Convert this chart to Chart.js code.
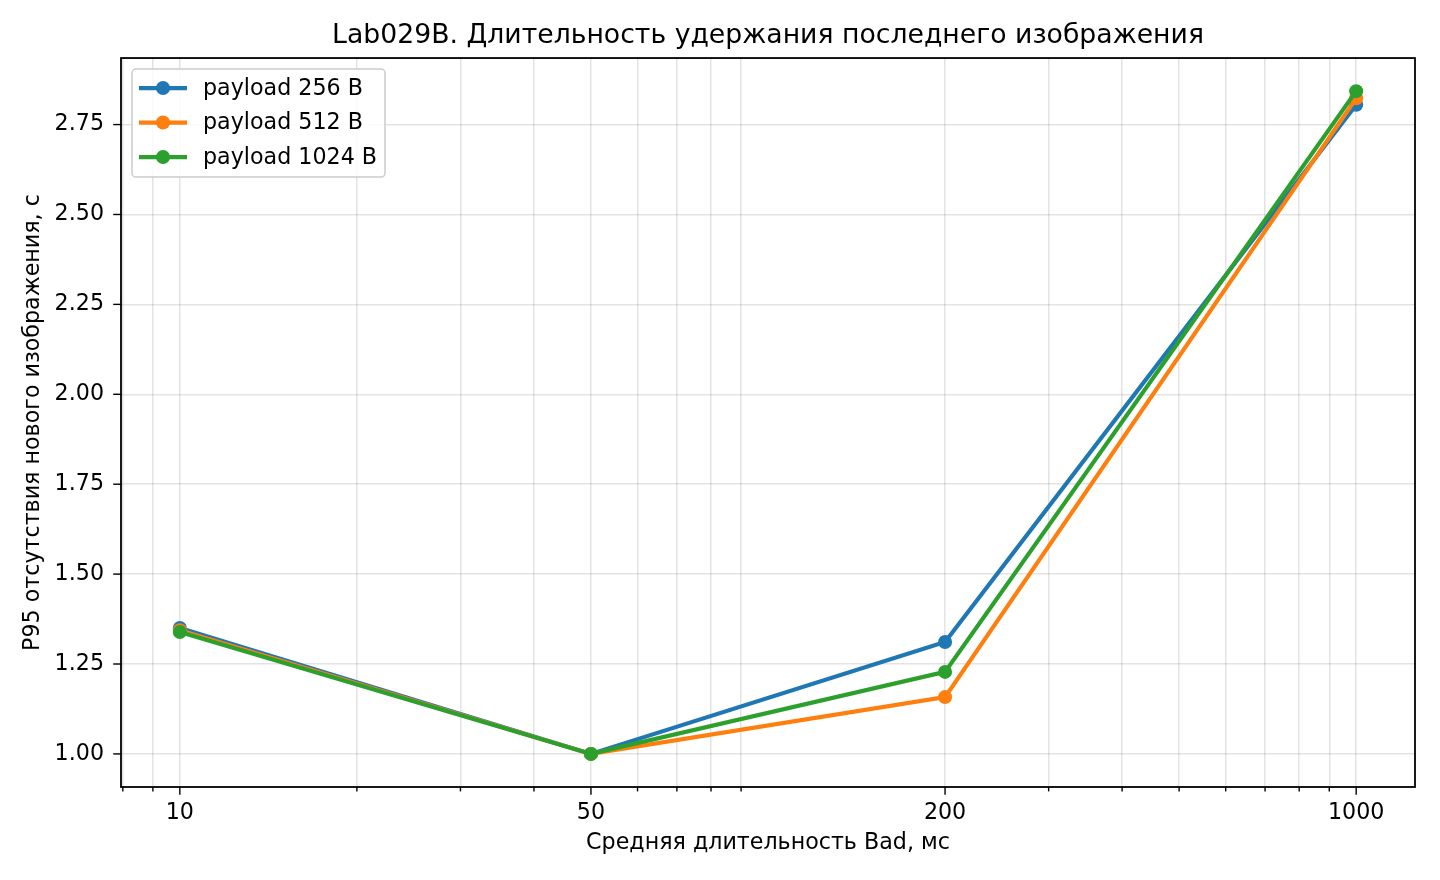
<!DOCTYPE html>
<html>
<head>
<meta charset="utf-8">
<script src="https://cdn.jsdelivr.net/npm/chart.js@4.4.1/dist/chart.umd.min.js"></script>
<style>
  html, body { margin: 0; padding: 0; background: #fff; }
  #wrap { width: 1440px; height: 880px; position: relative; }
</style>
</head>
<body>
<div id="wrap"><canvas id="c" width="1440" height="880"></canvas></div>
<script>
// ---- data ----
const durations = [10, 50, 200, 1000];
const p256  = [1.350, 1.000, 1.311, 2.805];
const p512  = [1.344, 1.000, 1.158, 2.823];
const p1024 = [1.339, 1.000, 1.228, 2.843];
const seriesNames = ['payload 256 B', 'payload 512 B', 'payload 1024 B'];
const xMajorTicks = [10, 50, 200, 1000];
const xMinorTicks = [8, 9, 20, 30, 40, 60, 70, 80, 90, 300, 400, 500, 600, 700, 800, 900];
const yTicks = [1.00, 1.25, 1.50, 1.75, 2.00, 2.25, 2.50, 2.75];
const titleText = 'Lab029B. Длительность удержания последнего изображения';
const xLabel = 'Средняя длительность Bad, мс';
const yLabel = 'P95 отсутствия нового изображения, с';

const colors = ['#1f77b4', '#ff7f0e', '#2ca02c'];
const FONT = 'DejaVu Sans';
const FS = 22.2;
Chart.defaults.font.family = FONT;
Chart.defaults.color = '#000';

const majorSet = new Set(xMajorTicks);
const allX = xMinorTicks.concat(xMajorTicks).sort((a, b) => a - b);

function mk(i, vals) {
  return {
    label: seriesNames[i],
    data: durations.map((d, k) => ({x: d, y: vals[k]})),
    borderColor: colors[i],
    backgroundColor: colors[i],
    pointBackgroundColor: colors[i],
    pointBorderWidth: 0,
    pointRadius: 7,
    pointHoverRadius: 7,
    borderWidth: 4.2,
    tension: 0,
    order: 3 - i
  };
}

const tickFramePlugin = {
  id: 'tickFrame',
  afterDatasetsDraw(chart) {
    const ctx = chart.ctx;
    const a = chart.chartArea;
    const xs = chart.scales.x, ys = chart.scales.y;
    ctx.save();
    ctx.strokeStyle = '#000';
    ctx.lineWidth = 1.4;
    xs.ticks.forEach(t => {
      const px = xs.getPixelForValue(t.value);
      const len = majorSet.has(t.value) ? 7.8 : 4.4;
      ctx.beginPath();
      ctx.moveTo(px, a.bottom);
      ctx.lineTo(px, a.bottom + len);
      ctx.stroke();
    });
    ys.ticks.forEach(t => {
      const py = ys.getPixelForValue(t.value);
      ctx.beginPath();
      ctx.moveTo(a.left, py);
      ctx.lineTo(a.left - 7.8, py);
      ctx.stroke();
    });
    ctx.lineWidth = 1.8;
    ctx.strokeRect(a.left, a.top, a.right - a.left, a.bottom - a.top);
    ctx.restore();
  }
};

const legendPlugin = {
  id: 'innerLegend',
  afterDraw(chart) {
    const ctx = chart.ctx;
    const a = chart.chartArea;
    const left = a.left + 11, top = a.top + 11;
    const rowH = 34.5, padTop = 19, padBottom = 20;
    ctx.save();
    ctx.font = FS + 'px "' + FONT + '"';
    const textX = left + 71;
    let maxW = 0;
    chart.data.datasets.forEach(d => { maxW = Math.max(maxW, ctx.measureText(d.label).width); });
    const w = (textX - left) + maxW + 8;
    const h = padTop + padBottom + rowH * (chart.data.datasets.length - 1);
    ctx.fillStyle = 'rgba(255,255,255,0.8)';
    ctx.strokeStyle = '#cccccc';
    ctx.lineWidth = 1.5;
    ctx.beginPath();
    ctx.roundRect(left, top, w, h, 4);
    ctx.fill();
    ctx.stroke();
    chart.data.datasets.forEach((d, i) => {
      const cy = top + padTop + rowH * i;
      ctx.strokeStyle = d.borderColor;
      ctx.lineWidth = d.borderWidth;
      ctx.beginPath();
      ctx.moveTo(left + 7, cy);
      ctx.lineTo(left + 55, cy);
      ctx.stroke();
      ctx.fillStyle = d.borderColor;
      ctx.beginPath();
      ctx.arc(left + 31, cy, d.pointRadius, 0, Math.PI * 2);
      ctx.fill();
      ctx.fillStyle = '#000';
      ctx.textBaseline = 'middle';
      ctx.textAlign = 'left';
      ctx.fillText(d.label, textX, cy + 1);
    });
    ctx.restore();
  }
};

new Chart(document.getElementById('c'), {
  type: 'line',
  data: { datasets: [mk(0, p256), mk(1, p512), mk(2, p1024)] },
  plugins: [tickFramePlugin, legendPlugin],
  options: {
    responsive: false,
    devicePixelRatio: 1,
    animation: false,
    layout: { padding: { left: 0, right: 25, top: 0, bottom: 0 } },
    plugins: {
      legend: { display: false },
      tooltip: { enabled: false },
      title: {
        display: true,
        fullSize: false,
        text: titleText,
        font: { family: FONT, size: 26.7, weight: 'normal', lineHeight: 1.2 },
        color: '#000',
        padding: { top: 20, bottom: 6 }
      }
    },
    scales: {
      x: {
        type: 'logarithmic',
        min: Math.pow(10, 0.9),
        max: Math.pow(10, 3.1),
        afterBuildTicks(s) { s.ticks = allX.map(v => ({ value: v, major: majorSet.has(v) })); },
        afterFit(s) { s.height = 93; },
        ticks: {
          autoSkip: false,
          maxRotation: 0,
          padding: 13,
          font: { size: FS },
          color: '#000',
          callback(v) { return majorSet.has(v) ? String(v) : ''; }
        },
        grid: {
          drawTicks: false,
          color: 'rgba(0,0,0,0.11)',
          lineWidth: 1.5
        },
        border: { display: false },
        title: {
          display: true,
          text: xLabel,
          font: { size: FS },
          color: '#000',
          padding: { top: 23.7, bottom: 23.7 }
        }
      },
      y: {
        type: 'linear',
        min: 0.908,
        max: 2.935,
        afterBuildTicks(s) { s.ticks = yTicks.map(v => ({ value: v })); },
        afterFit(s) { s.width = 121; },
        ticks: {
          padding: 17,
          font: { size: FS },
          color: '#000',
          callback(v) { return v.toFixed(2); }
        },
        grid: {
          drawTicks: false,
          color: 'rgba(0,0,0,0.11)',
          lineWidth: 1.5
        },
        border: { display: false },
        title: {
          display: true,
          text: yLabel,
          font: { size: FS },
          color: '#000',
          padding: { top: 19.7, bottom: 19.7 }
        }
      }
    }
  }
});
</script>
</body>
</html>
